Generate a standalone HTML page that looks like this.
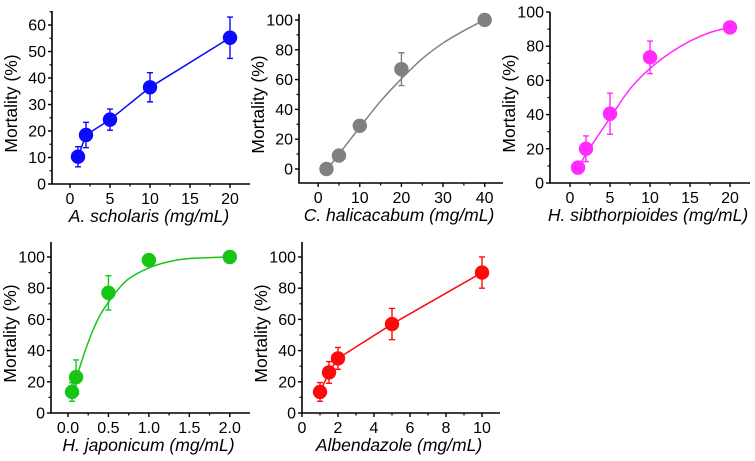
<!DOCTYPE html>
<html><head><meta charset="utf-8"><style>
body{margin:0;background:#fff}
svg{display:block}
text{font-family:"Liberation Sans",Arial,sans-serif;fill:#000}
</style></head><body>
<svg id="c" width="755" height="461"></svg>
<script>
// Panel 1: A. scholaris
const p1X=[1,2,5,10,20];
const p1Y=[10.3,18.5,24.3,36.5,55.2];
const p1E=[3.8,4.8,4,5.5,7.8];
// Panel 2: C. halicacabum
const p2X=[2,5,10,20,40];
const p2Y=[0,9,29,67,100];
const p2E=[0,0,0,11,0];
const p2FitX=[2,5,10,15,20,25,30,35,40];
const p2FitY=[-1,10,28,45.5,60.5,74,84.5,92.8,100];
// Panel 3: H. sibthorpioides
const p3X=[1,2,5,10,20];
const p3Y=[9,20,40.5,73.5,91];
const p3E=[0,7.5,12,9.5,0];
const p3FitX=[1,2,5,7.5,10,12.5,15,17.5,20];
const p3FitY=[8,17,38,55,67,76,83,88,91];
// Panel 4: H. japonicum
const p4X=[0.05,0.1,0.5,1,2];
const p4Y=[13.5,23,77,98,100];
const p4E=[6,11,11,0,0];
const p4FitX=[0.05,0.1,0.2,0.3,0.4,0.5,0.6,0.75,1,1.25,1.5,2];
const p4FitY=[14,22,38,52,63,71,78,86,93,97,99,100];
// Panel 5: Albendazole
const p5X=[1,1.5,2,5,10];
const p5Y=[13.5,26,35,57,90];
const p5E=[6,7,7,10,10];
// Tick labels
const p1XT=[0,5,10,15,20], p1YT=[0,10,20,30,40,50,60];
const p2XT=[0,10,20,30,40], p2YT=[0,20,40,60,80,100];
const p3XT=[0,5,10,15,20], p3YT=[0,20,40,60,80,100];
const p4XT=[0,0.5,1,1.5,2], p4YT=[0,20,40,60,80,100];
const p5XT=[0,2,4,6,8,10], p5YT=[0,20,40,60,80,100];

const NS="http://www.w3.org/2000/svg";
const svg=document.getElementById('c');
function mk(t,a,p){const e=document.createElementNS(NS,t);for(const k in a)e.setAttribute(k,a[k]);(p||svg).appendChild(e);return e;}

function panel(o){
  const g=mk('g',{});
  
  
  const sx=v=>o.L+(v-o.xr[0])/(o.xr[1]-o.xr[0])*(o.R-o.L);
  const sy=v=>o.B-(v-o.yr[0])/(o.yr[1]-o.yr[0])*(o.B-o.T);
  const ax=mk('path',{d:`M${o.L},${o.T}V${o.B}H${o.R}`,stroke:'#000','stroke-width':1.6,fill:'none'},g);
  
  
  const xs=o.xt[1]-o.xt[0];
  for(let i=0;i<o.xt.length;i++){
    const v=o.xt[i];
    mk('line',{x1:sx(v),x2:sx(v),y1:o.B,y2:o.B+4,stroke:'#000','stroke-width':1.4},g);
    const m=v+xs/2; if(sx(m)<o.R) mk('line',{x1:sx(m),x2:sx(m),y1:o.B,y2:o.B+2.5,stroke:'#000','stroke-width':1.2},g);
    if(i==0){const m0=v-xs/2; if(sx(m0)>o.L) mk('line',{x1:sx(m0),x2:sx(m0),y1:o.B,y2:o.B+2.5,stroke:'#000','stroke-width':1.2},g);}
    const t=mk('text',{x:sx(v),y:o.B+20,'font-size':16,'text-anchor':'middle'},g);
    t.textContent=o.xf?o.xf(v):v;
    
    
  }
  const ys=o.yt[1]-o.yt[0];
  for(let i=0;i<o.yt.length;i++){
    const v=o.yt[i];
    mk('line',{x1:o.L-4,x2:o.L,y1:sy(v),y2:sy(v),stroke:'#000','stroke-width':1.4},g);
    const m=v+ys/2; if(sy(m)>o.T) mk('line',{x1:o.L-2.5,x2:o.L,y1:sy(m),y2:sy(m),stroke:'#000','stroke-width':1.2},g);
    if(i==0){const m0=v-ys/2; if(sy(m0)<o.B) mk('line',{x1:o.L-2.5,x2:o.L,y1:sy(m0),y2:sy(m0),stroke:'#000','stroke-width':1.2},g);}
    const t=mk('text',{x:o.L-6,y:sy(v)+5.5,'font-size':16,'text-anchor':'end'},g);
    t.textContent=v;
    
    
  }
  const xt=mk('text',{x:(o.L+o.R)/2-2,y:o.B+38,'font-size':17.5,'text-anchor':'middle'},g);
  xt.innerHTML=`<tspan font-style="italic">${o.sp}</tspan><tspan font-style="italic"> (mg/mL)</tspan>`;
  
  
  const yc=(o.T+o.B)/2+6;
  const yt=mk('text',{x:0,y:0,'font-size':17.5,'text-anchor':'middle',transform:`translate(${o.L-35},${yc}) rotate(-90)`},g);
  yt.textContent='Mortality (%)';
  
  
  const lx=o.fx||o.x, ly=o.fy||o.y;
  let d='';
  if(o.fx){
    const P=lx.map((v,i)=>[sx(v),sy(ly[i])]);
    d=`M${P[0][0]},${P[0][1]}`;
    for(let i=0;i<P.length-1;i++){
      const p0=P[Math.max(0,i-1)],p1=P[i],p2=P[i+1],p3=P[Math.min(P.length-1,i+2)];
      d+=`C${p1[0]+(p2[0]-p0[0])/6},${p1[1]+(p2[1]-p0[1])/6} ${p2[0]-(p3[0]-p1[0])/6},${p2[1]-(p3[1]-p1[1])/6} ${p2[0]},${p2[1]}`;
    }
  } else d=lx.map((v,i)=>(i?'L':'M')+sx(v)+','+sy(ly[i])).join('');
  const ln=mk('path',{d,stroke:o.c,'stroke-width':1.5,fill:'none'},g);
  
  
  for(let i=0;i<o.x.length;i++){
    const cx=sx(o.x[i]),cy=sy(o.y[i]),e=o.e[i];
    if(e>0){
      const y1=sy(o.y[i]+e),y2=sy(o.y[i]-e);
      const eb=mk('path',{d:`M${cx},${y1}V${y2}M${cx-3},${y1}H${cx+3}M${cx-3},${y2}H${cx+3}`,stroke:o.c,'stroke-width':1.4,fill:'none'},g);
      
      
    }
    const pt=mk('circle',{cx,cy,r:7.2,fill:o.c},g);
    
    
  }
}
panel({name:'panel-a-scholaris',L:52,R:250,T:11,B:184,xr:[-2.25,22.5],yr:[0,65.3],xt:p1XT,yt:p1YT,x:p1X,y:p1Y,e:p1E,c:'#0a0aff',sp:'A. scholaris'});
panel({name:'panel-c-halicacabum',L:299,R:503,T:14,B:183,xr:[-4.6,44.4],yr:[-9.4,104],xt:p2XT,yt:p2YT,x:p2X,y:p2Y,e:p2E,fx:p2FitX,fy:p2FitY,c:'#808080',sp:'C. halicacabum'});
panel({name:'panel-h-sibthorpioides',L:550,R:750,T:12,B:183,xr:[-2.5,22.5],yr:[0,100],xt:p3XT,yt:p3YT,x:p3X,y:p3Y,e:p3E,fx:p3FitX,fy:p3FitY,c:'#ff2bff',sp:'H. sibthorpioides'});
panel({name:'panel-h-japonicum',L:51,R:250,T:242,B:413,xr:[-0.21,2.25],yr:[0,109.6],xt:p4XT,yt:p4YT,x:p4X,y:p4Y,e:p4E,fx:p4FitX,fy:p4FitY,c:'#17c517',sp:'H. japonicum',xf:v=>v.toFixed(1)});
panel({name:'panel-albendazole',L:302,R:500,T:242,B:413,xr:[0,11],yr:[0,109.6],xt:p5XT,yt:p5YT,x:p5X,y:p5Y,e:p5E,c:'#ff0a0a',sp:'Albendazole'});
</script>
</body></html>
